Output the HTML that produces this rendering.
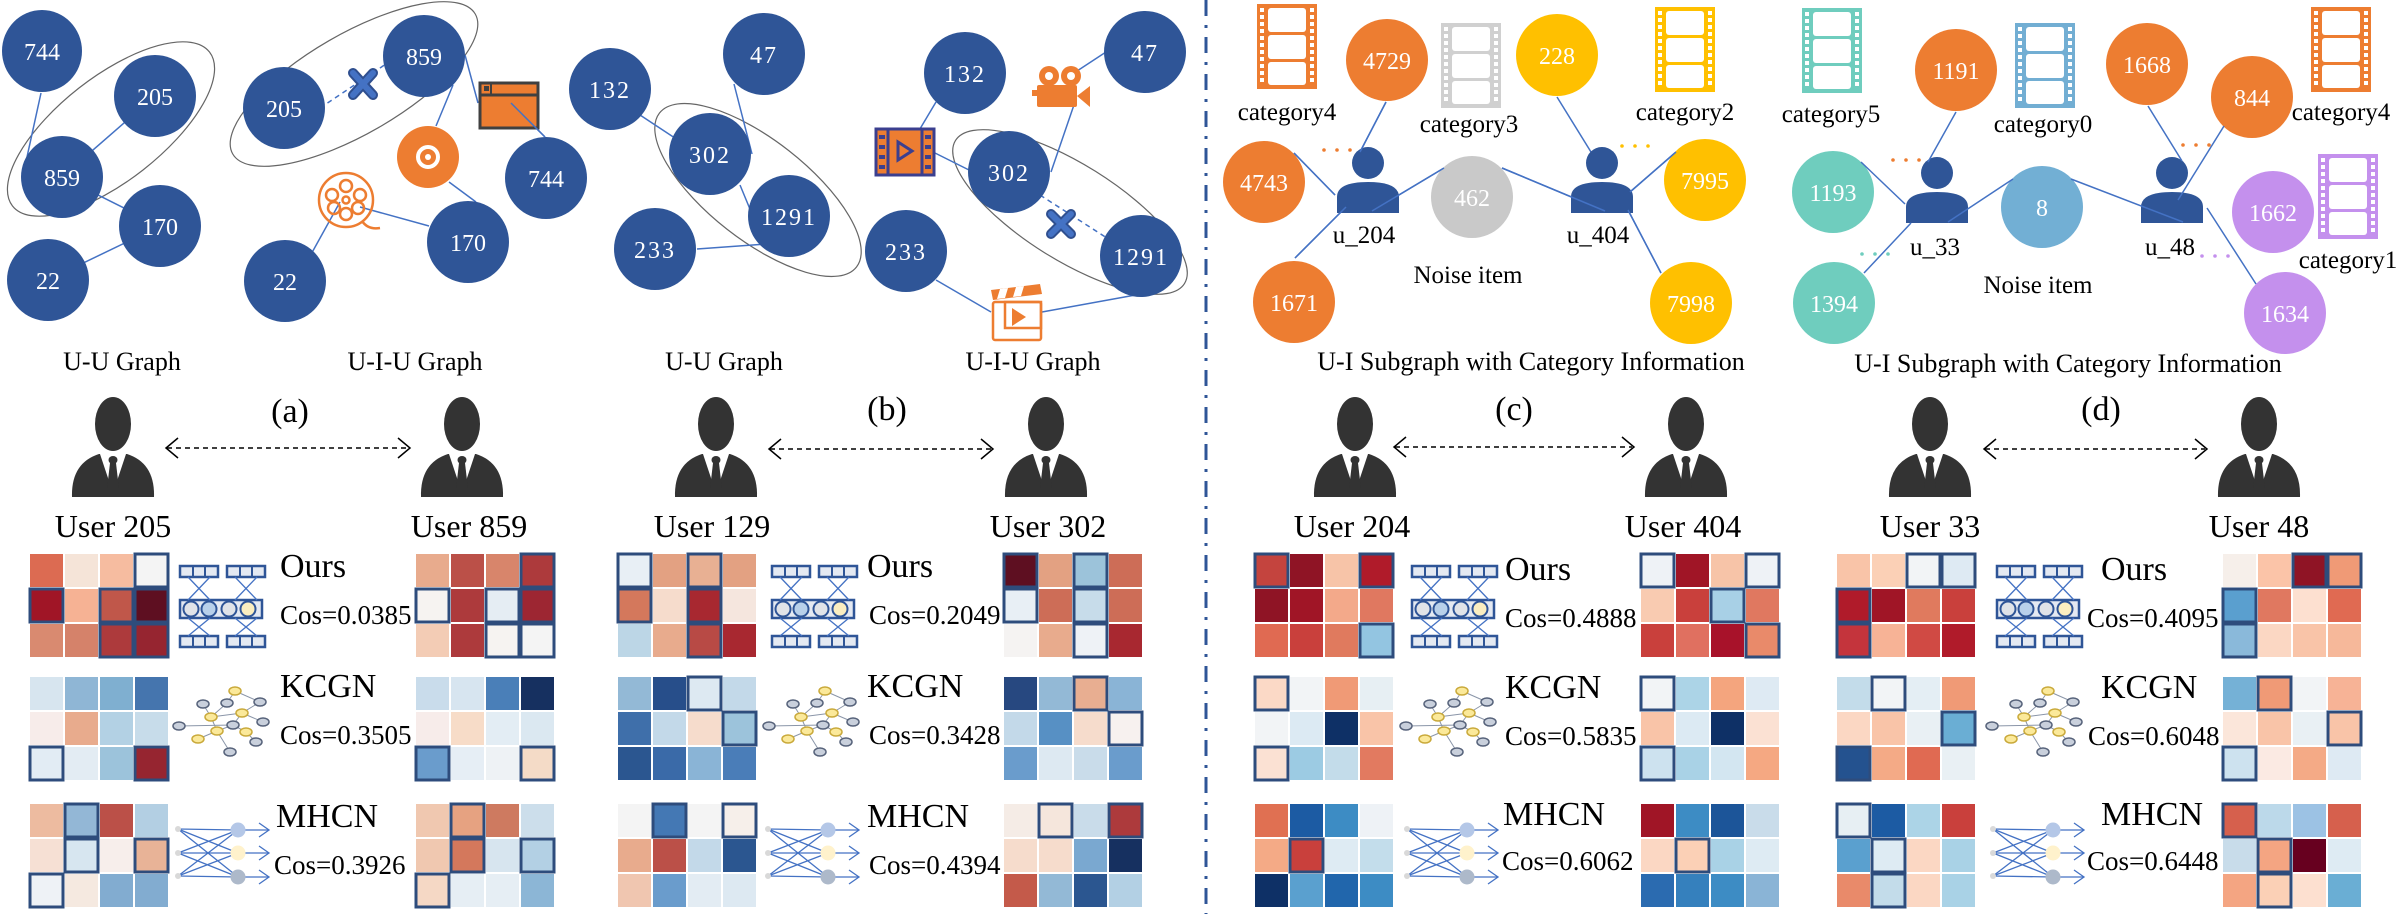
<!DOCTYPE html>
<html><head><meta charset="utf-8"><style>
html,body{margin:0;padding:0;background:#fff;}
svg{display:block;font-family:"Liberation Serif",serif;}
.h{stroke:#2e4c7c;stroke-width:3;}
.e{stroke:#4472c4;stroke-width:1.5;fill:none;}
.n{fill:#2f5597;}
.nt{fill:#fff;font-size:24px;text-anchor:middle;}
.lb{fill:#000;font-size:25px;text-anchor:middle;}
.big{font-size:34px;fill:#000;}
.cos{font-size:27px;fill:#000;}
.usr{font-size:32px;text-anchor:middle;fill:#000;}
</style></head><body>
<svg width="2397" height="914" viewBox="0 0 2397 914" xmlns="http://www.w3.org/2000/svg">
<defs>
<g id="person">
<ellipse cx="0" cy="27" rx="18" ry="27" fill="#333"/>
<path d="M-41,100 Q-42,66 -14,57 L14,57 Q42,66 41,100 Z" fill="#333"/>
<polygon points="-13,57 0,96 13,57" fill="#fff"/>
<ellipse cx="0" cy="63" rx="4.5" ry="4" fill="#333"/>
<polygon points="-3,66 3,66 6,92 0,99 -6,92" fill="#333"/>
</g>
<g id="bu">
<circle cx="0" cy="0" r="16" fill="#2f5597"/>
<path d="M-31,50 L-31,34 Q-31,19 0,19 Q31,19 31,34 L31,50 Z" fill="#2f5597"/>
</g>
<g id="film">
<rect x="0" y="0" width="60" height="85" fill="currentColor"/>
<g fill="#fff">
<rect x="3" y="4" width="4" height="4"/><rect x="3" y="11" width="4" height="4"/><rect x="3" y="18" width="4" height="4"/><rect x="3" y="25" width="4" height="4"/><rect x="3" y="32" width="4" height="4"/><rect x="3" y="39" width="4" height="4"/><rect x="3" y="46" width="4" height="4"/><rect x="3" y="53" width="4" height="4"/><rect x="3" y="60" width="4" height="4"/><rect x="3" y="67" width="4" height="4"/><rect x="3" y="74" width="4" height="4"/>
<rect x="53" y="4" width="4" height="4"/><rect x="53" y="11" width="4" height="4"/><rect x="53" y="18" width="4" height="4"/><rect x="53" y="25" width="4" height="4"/><rect x="53" y="32" width="4" height="4"/><rect x="53" y="39" width="4" height="4"/><rect x="53" y="46" width="4" height="4"/><rect x="53" y="53" width="4" height="4"/><rect x="53" y="60" width="4" height="4"/><rect x="53" y="67" width="4" height="4"/><rect x="53" y="74" width="4" height="4"/>
<rect x="11" y="4" width="38" height="24" rx="3"/><rect x="11" y="31" width="38" height="24" rx="3"/><rect x="11" y="58" width="38" height="23" rx="3"/>
</g>
</g>
<g id="ours">
<g fill="#e4e9f2" stroke="#2f5597" stroke-width="2.5">
<rect x="0" y="0" width="38" height="11"/><rect x="47" y="0" width="38" height="11"/>
<rect x="0" y="70" width="38" height="11"/><rect x="47" y="70" width="38" height="11"/>
<rect x="0" y="34" width="82" height="18"/>
</g>
<g stroke="#2f5597" stroke-width="2"><line x1="13" y1="0" x2="13" y2="11"/><line x1="25" y1="0" x2="25" y2="11"/><line x1="60" y1="0" x2="60" y2="11"/><line x1="72" y1="0" x2="72" y2="11"/><line x1="13" y1="70" x2="13" y2="81"/><line x1="25" y1="70" x2="25" y2="81"/><line x1="60" y1="70" x2="60" y2="81"/><line x1="72" y1="70" x2="72" y2="81"/></g>
<g stroke="#4472c4" stroke-width="1.3"><line x1="8" y1="11" x2="30" y2="34"/><line x1="30" y1="11" x2="8" y2="34"/><line x1="55" y1="11" x2="77" y2="34"/><line x1="77" y1="11" x2="55" y2="34"/><line x1="8" y1="52" x2="30" y2="70"/><line x1="30" y1="52" x2="8" y2="70"/><line x1="55" y1="52" x2="77" y2="70"/><line x1="77" y1="52" x2="55" y2="70"/></g>
<g stroke="#2f5597" stroke-width="2"><circle cx="11" cy="43" r="7.5" fill="#e0e3e8"/><circle cx="29" cy="43" r="7.5" fill="#b8d0ea"/><circle cx="49" cy="43" r="7.5" fill="#e0e3e8"/><circle cx="68" cy="43" r="7.5" fill="#fbeec0"/></g>
</g>
<g id="kcgn">
<g stroke="#8a95a8" stroke-width="1"><line x1="60" y1="14" x2="52" y2="26"/><line x1="60" y1="14" x2="85" y2="25"/><line x1="52" y1="26" x2="36" y2="40"/><line x1="28" y1="27" x2="36" y2="40"/><line x1="36" y1="40" x2="67" y2="36"/><line x1="67" y1="36" x2="85" y2="25"/><line x1="4" y1="49" x2="58" y2="48"/><line x1="58" y1="48" x2="67" y2="36"/><line x1="58" y1="48" x2="42" y2="54"/><line x1="42" y1="54" x2="23" y2="62"/><line x1="42" y1="54" x2="55" y2="75"/><line x1="71" y1="55" x2="81" y2="65"/><line x1="67" y1="36" x2="88" y2="45"/><line x1="58" y1="48" x2="71" y2="55"/><line x1="36" y1="40" x2="42" y2="54"/></g>
<g stroke-width="1.5"><ellipse cx="60" cy="14" rx="6" ry="4" fill="#fbe99a" stroke="#c9a93a"/><ellipse cx="28" cy="27" rx="6" ry="4" fill="#c9d0dc" stroke="#56627a"/><ellipse cx="52" cy="26" rx="6" ry="4" fill="#c9d0dc" stroke="#56627a"/><ellipse cx="85" cy="25" rx="6" ry="4" fill="#c9d0dc" stroke="#56627a"/><ellipse cx="36" cy="40" rx="6" ry="4" fill="#fbe99a" stroke="#c9a93a"/><ellipse cx="67" cy="36" rx="6" ry="4" fill="#fbe99a" stroke="#c9a93a"/><ellipse cx="4" cy="49" rx="6" ry="4" fill="#c9d0dc" stroke="#56627a"/><ellipse cx="58" cy="48" rx="6" ry="4" fill="#c9d0dc" stroke="#56627a"/><ellipse cx="88" cy="45" rx="6" ry="4" fill="#c9d0dc" stroke="#56627a"/><ellipse cx="42" cy="54" rx="6" ry="4" fill="#fbe99a" stroke="#c9a93a"/><ellipse cx="71" cy="55" rx="6" ry="4" fill="#fbe99a" stroke="#c9a93a"/><ellipse cx="23" cy="62" rx="6" ry="4" fill="#fbe99a" stroke="#c9a93a"/><ellipse cx="81" cy="65" rx="6" ry="4" fill="#c9d0dc" stroke="#56627a"/><ellipse cx="55" cy="75" rx="6" ry="4" fill="#c9d0dc" stroke="#56627a"/></g>
</g>
<g id="mhcn">
<g stroke="#4472c4" stroke-width="1.3" fill="none"><line x1="3" y1="25" x2="63" y2="26"/><line x1="3" y1="25" x2="63" y2="49"/><line x1="3" y1="25" x2="63" y2="73"/><line x1="3" y1="49" x2="63" y2="26"/><line x1="3" y1="49" x2="63" y2="49"/><line x1="3" y1="49" x2="63" y2="73"/><line x1="3" y1="72" x2="63" y2="26"/><line x1="3" y1="72" x2="63" y2="49"/><line x1="3" y1="72" x2="63" y2="73"/><line x1="63" y1="26" x2="94" y2="26"/><line x1="63" y1="49" x2="94" y2="49"/><line x1="63" y1="73" x2="94" y2="73"/><polyline points="84,19 94,26 84,33"/><polyline points="84,42 94,49 84,56"/><polyline points="84,66 94,73 84,80"/></g>
<circle cx="3" cy="25" r="3" fill="#d9d9d9"/><circle cx="3" cy="49" r="3" fill="#d9d9d9"/><circle cx="3" cy="72" r="3" fill="#d9d9d9"/>
<circle cx="63" cy="26" r="7.5" fill="#b4c7e7"/><circle cx="63" cy="49" r="7.5" fill="#fff2cc"/><circle cx="63" cy="73" r="7.5" fill="#adb9ca"/>
</g>
<g id="darr" stroke="#000" stroke-width="1.5" fill="none"><polyline points="12,-10 0,0 12,10"/></g>
</defs>

<!-- divider -->
<line x1="1206" y1="0" x2="1206" y2="914" stroke="#2f5597" stroke-width="3" stroke-dasharray="16 9 3 9"/>

<!-- ===== Panel (a) graphs ===== -->
<ellipse cx="111" cy="129" rx="125" ry="52" transform="rotate(-38 111 129)" fill="none" stroke="#666" stroke-width="1.2"/>
<line class="e" x1="41" y1="93" x2="27" y2="157"/>
<line class="e" x1="155" y1="96" x2="62" y2="177"/>
<line class="e" x1="62" y1="177" x2="160" y2="226"/>
<line class="e" x1="160" y1="226" x2="48" y2="280"/>
<ellipse class="n" cx="42" cy="51" rx="40" ry="41"/><text class="nt" x="42" y="60">744</text>
<ellipse class="n" cx="155" cy="96" rx="41" ry="41"/><text class="nt" x="155" y="105">205</text>
<ellipse class="n" cx="62" cy="177" rx="41" ry="41"/><text class="nt" x="62" y="186">859</text>
<ellipse class="n" cx="160" cy="226" rx="41" ry="41"/><text class="nt" x="160" y="235">170</text>
<ellipse class="n" cx="48" cy="280" rx="41" ry="41"/><text class="nt" x="48" y="289">22</text>

<ellipse cx="354" cy="84" rx="140" ry="50" transform="rotate(-30 354 84)" fill="none" stroke="#666" stroke-width="1.2"/>
<line x1="320" y1="108" x2="392" y2="60" stroke="#4472c4" stroke-width="1.5" stroke-dasharray="5 4"/>
<line class="e" x1="465" y1="55" x2="478" y2="103"/>
<line class="e" x1="511" y1="103" x2="545" y2="137"/>
<line class="e" x1="453" y1="85" x2="436" y2="126"/>
<line class="e" x1="449" y1="182" x2="476" y2="202"/>
<line class="e" x1="360" y1="207" x2="429" y2="226"/>
<line class="e" x1="340" y1="202" x2="309" y2="258"/>
<ellipse class="n" cx="424" cy="56" rx="41" ry="41"/><text class="nt" x="424" y="65">859</text>
<ellipse class="n" cx="284" cy="108" rx="41" ry="41"/><text class="nt" x="284" y="117">205</text>
<ellipse class="n" cx="546" cy="178" rx="41" ry="41"/><text class="nt" x="546" y="187">744</text>
<ellipse class="n" cx="468" cy="242" rx="41" ry="41"/><text class="nt" x="468" y="251">170</text>
<ellipse class="n" cx="285" cy="281" rx="41" ry="41"/><text class="nt" x="285" y="290">22</text>
<!-- blue X -->
<g stroke-linecap="round"><line x1="353" y1="73" x2="373" y2="95" stroke="#2f4f8f" stroke-width="10"/><line x1="373" y1="73" x2="353" y2="95" stroke="#2f4f8f" stroke-width="10"/><line x1="353" y1="73" x2="373" y2="95" stroke="#4472c4" stroke-width="6"/><line x1="373" y1="73" x2="353" y2="95" stroke="#4472c4" stroke-width="6"/></g>
<!-- window icon -->
<rect x="480" y="83" width="58" height="45" fill="#ed7d31" stroke="#404040" stroke-width="3"/>
<line x1="480" y1="95" x2="538" y2="95" stroke="#404040" stroke-width="3"/>
<rect x="484" y="86" width="5" height="5" fill="#404040"/><line x1="491" y1="83" x2="491" y2="95" stroke="#404040" stroke-width="2"/>
<line class="e" x1="511" y1="103" x2="545" y2="137"/>
<!-- disc -->
<ellipse cx="428" cy="157" rx="31" ry="31" fill="#ed7d31"/>
<circle cx="428" cy="157" r="10" fill="none" stroke="#fff" stroke-width="4"/><circle cx="428" cy="157" r="3" fill="#fff"/>
<!-- film reel -->
<g fill="none" stroke="#ed7d31" stroke-width="2.5"><circle cx="346" cy="200" r="27"/><circle cx="346" cy="200" r="3.5"/><circle cx="346" cy="186" r="6"/><circle cx="346" cy="214" r="6"/><circle cx="332" cy="195" r="6"/><circle cx="360" cy="195" r="6"/><circle cx="334" cy="208" r="6"/><circle cx="358" cy="208" r="6"/><path d="M362,221 Q368,230 380,228"/></g>

<!-- ===== Panel (b) graphs ===== -->
<ellipse cx="758" cy="190" rx="125" ry="50" transform="rotate(38 758 190)" fill="none" stroke="#666" stroke-width="1.2"/>
<line class="e" x1="640" y1="115" x2="690" y2="148"/>
<line class="e" x1="734" y1="84" x2="752" y2="154"/>
<line class="e" x1="740" y1="185" x2="752" y2="214"/>
<line class="e" x1="697" y1="249" x2="766" y2="244"/>
<ellipse class="n" cx="610" cy="89" rx="41" ry="41"/><text class="nt" x="610" y="98" letter-spacing="2">132</text>
<ellipse class="n" cx="764" cy="54" rx="41" ry="41"/><text class="nt" x="764" y="63" letter-spacing="2">47</text>
<ellipse class="n" cx="710" cy="154" rx="41" ry="41"/><text class="nt" x="710" y="163" letter-spacing="2">302</text>
<ellipse class="n" cx="789" cy="216" rx="41" ry="41"/><text class="nt" x="789" y="225" letter-spacing="2">1291</text>
<ellipse class="n" cx="655" cy="249" rx="41" ry="41"/><text class="nt" x="655" y="258" letter-spacing="2">233</text>

<ellipse cx="1070" cy="212" rx="135" ry="48" transform="rotate(32 1070 212)" fill="none" stroke="#666" stroke-width="1.2"/>
<line x1="1040" y1="195" x2="1110" y2="240" stroke="#4472c4" stroke-width="1.5" stroke-dasharray="5 4"/>
<line class="e" x1="936" y1="102" x2="908" y2="149"/>
<line class="e" x1="935" y1="153" x2="969" y2="170"/>
<line class="e" x1="1106" y1="52" x2="1074" y2="73"/>
<line class="e" x1="1076" y1="99" x2="1051" y2="172"/>
<line class="e" x1="936" y1="280" x2="991" y2="312"/>
<line class="e" x1="1042" y1="312" x2="1141" y2="294"/>
<ellipse class="n" cx="965" cy="73" rx="41" ry="41"/><text class="nt" x="965" y="82" letter-spacing="2">132</text>
<ellipse class="n" cx="1145" cy="52" rx="41" ry="41"/><text class="nt" x="1145" y="61" letter-spacing="2">47</text>
<ellipse class="n" cx="1009" cy="172" rx="41" ry="41"/><text class="nt" x="1009" y="181" letter-spacing="2">302</text>
<ellipse class="n" cx="1141" cy="256" rx="41" ry="41"/><text class="nt" x="1141" y="265" letter-spacing="2">1291</text>
<ellipse class="n" cx="906" cy="251" rx="41" ry="41"/><text class="nt" x="906" y="260" letter-spacing="2">233</text>
<g stroke-linecap="round"><line x1="1051" y1="214" x2="1071" y2="234" stroke="#2f4f8f" stroke-width="10"/><line x1="1071" y1="214" x2="1051" y2="234" stroke="#2f4f8f" stroke-width="10"/><line x1="1051" y1="214" x2="1071" y2="234" stroke="#4472c4" stroke-width="6"/><line x1="1071" y1="214" x2="1051" y2="234" stroke="#4472c4" stroke-width="6"/></g>
<!-- film strip icon -->
<rect x="876" y="129" width="58" height="46" fill="#ed7d31" stroke="#3b3f8f" stroke-width="3"/>
<line x1="888" y1="129" x2="888" y2="175" stroke="#3b3f8f" stroke-width="3"/><line x1="922" y1="129" x2="922" y2="175" stroke="#3b3f8f" stroke-width="3"/>
<g fill="#3b3f8f"><rect x="879" y="135" width="6" height="4"/><rect x="879" y="145" width="6" height="4"/><rect x="879" y="155" width="6" height="4"/><rect x="879" y="165" width="6" height="4"/><rect x="925" y="135" width="6" height="4"/><rect x="925" y="145" width="6" height="4"/><rect x="925" y="155" width="6" height="4"/><rect x="925" y="165" width="6" height="4"/></g>
<polygon points="898,142 898,160 912,151" fill="none" stroke="#3b3f8f" stroke-width="3"/>
<!-- camera -->
<g fill="#ed7d31"><circle cx="1049" cy="76" r="10"/><circle cx="1071" cy="76" r="10"/><rect x="1037" y="85" width="40" height="22" rx="2"/><polygon points="1077,96 1090,86 1090,107"/><rect x="1032" y="90" width="6" height="6"/></g>
<g fill="#fff"><circle cx="1049" cy="76" r="4"/><circle cx="1071" cy="76" r="4"/></g>
<!-- clapper -->
<g fill="none" stroke="#ed7d31" stroke-width="2.5"><rect x="993" y="302" width="48" height="38" rx="2"/><rect x="1005" y="302" width="36" height="26"/></g>
<polygon points="991,290 1040,284 1042,294 993,300" fill="#ed7d31"/>
<g fill="#fff"><polygon points="1000,289 1008,288 1005,298 997,299"/><polygon points="1016,287 1024,286 1021,296 1013,297"/></g>
<polygon points="1012,308 1012,326 1026,317" fill="#ed7d31"/>

<!-- ===== Panel (c) graph ===== -->
<use href="#film" x="1257" y="4" style="color:#ed7d31"/>
<use href="#film" x="1441" y="23" style="color:#d0d0d0"/>
<use href="#film" x="1655" y="7" style="color:#ffc000"/>
<text class="lb" x="1287" y="120">category4</text>
<text class="lb" x="1469" y="132">category3</text>
<text class="lb" x="1685" y="120">category2</text>
<line class="e" x1="1386" y1="102" x2="1360" y2="152"/>
<line class="e" x1="1294" y1="153" x2="1335" y2="195"/>
<line class="e" x1="1295" y1="258" x2="1346" y2="207"/>
<line class="e" x1="1444" y1="168" x2="1372" y2="211"/>
<line class="e" x1="1502" y1="168" x2="1605" y2="211"/>
<line class="e" x1="1557" y1="97" x2="1591" y2="152"/>
<line class="e" x1="1676" y1="152" x2="1630" y2="192"/>
<line class="e" x1="1661" y1="273" x2="1628" y2="210"/>
<ellipse cx="1387" cy="60" rx="41" ry="41" fill="#ed7d31"/><text class="nt" x="1387" y="69">4729</text>
<ellipse cx="1557" cy="55" rx="41" ry="41" fill="#ffc000"/><text class="nt" x="1557" y="64">228</text>
<ellipse cx="1264" cy="182" rx="41" ry="41" fill="#ed7d31"/><text class="nt" x="1264" y="191">4743</text>
<ellipse cx="1472" cy="197" rx="41" ry="41" fill="#c9c9c9"/><text class="nt" x="1472" y="206">462</text>
<ellipse cx="1705" cy="180" rx="41" ry="41" fill="#ffc000"/><text class="nt" x="1705" y="189">7995</text>
<ellipse cx="1294" cy="302" rx="41" ry="41" fill="#ed7d31"/><text class="nt" x="1294" y="311">1671</text>
<ellipse cx="1691" cy="303" rx="41" ry="41" fill="#ffc000"/><text class="nt" x="1691" y="312">7998</text>
<use href="#bu" transform="translate(1368,163)"/>
<use href="#bu" transform="translate(1602,163)"/>
<line class="e" x1="1386" y1="102" x2="1360" y2="152"/>
<line class="e" x1="1444" y1="168" x2="1372" y2="211"/>
<line class="e" x1="1502" y1="168" x2="1605" y2="211"/>
<line class="e" x1="1676" y1="152" x2="1630" y2="192"/>
<line class="e" x1="1294" y1="153" x2="1335" y2="195"/>
<line class="e" x1="1295" y1="258" x2="1346" y2="207"/>
<line class="e" x1="1661" y1="273" x2="1628" y2="210"/>
<g fill="#ed7d31"><circle cx="1324" cy="150" r="1.8"/><circle cx="1337" cy="150" r="1.8"/><circle cx="1350" cy="150" r="1.8"/></g>
<g fill="#ffc000"><circle cx="1622" cy="146" r="1.8"/><circle cx="1635" cy="146" r="1.8"/><circle cx="1648" cy="146" r="1.8"/></g>
<text class="lb" x="1364" y="243" font-size="27">u_204</text>
<text class="lb" x="1598" y="243" font-size="27">u_404</text>
<text class="lb" x="1468" y="283">Noise item</text>

<!-- ===== Panel (d) graph ===== -->
<use href="#film" x="1802" y="8" style="color:#6fcdbe"/>
<use href="#film" x="2015" y="23" style="color:#72aed3"/>
<use href="#film" x="2311" y="7" style="color:#ed7d31"/>
<use href="#film" x="2318" y="154" style="color:#c490ed"/>
<text class="lb" x="1831" y="122">category5</text>
<text class="lb" x="2043" y="132">category0</text>
<text class="lb" x="2341" y="120">category4</text>
<text class="lb" x="2348" y="268">category1</text>
<ellipse cx="1956" cy="70" rx="41" ry="41" fill="#ed7d31"/><text class="nt" x="1956" y="79">1191</text>
<ellipse cx="2147" cy="64" rx="41" ry="41" fill="#ed7d31"/><text class="nt" x="2147" y="73">1668</text>
<ellipse cx="2252" cy="97" rx="41" ry="41" fill="#ed7d31"/><text class="nt" x="2252" y="106">844</text>
<ellipse cx="1833" cy="192" rx="41" ry="41" fill="#6fcdbe"/><text class="nt" x="1833" y="201">1193</text>
<ellipse cx="2042" cy="207" rx="41" ry="41" fill="#72afd4"/><text class="nt" x="2042" y="216">8</text>
<ellipse cx="2273" cy="212" rx="41" ry="41" fill="#c490ed"/><text class="nt" x="2273" y="221">1662</text>
<ellipse cx="1834" cy="303" rx="41" ry="41" fill="#6fcdbe"/><text class="nt" x="1834" y="312">1394</text>
<ellipse cx="2285" cy="313" rx="41" ry="41" fill="#c490ed"/><text class="nt" x="2285" y="322">1634</text>
<use href="#bu" transform="translate(1937,173)"/>
<use href="#bu" transform="translate(2172,173)"/>
<line class="e" x1="1956" y1="112" x2="1928" y2="162"/>
<line class="e" x1="1861" y1="162" x2="1905" y2="204"/>
<line class="e" x1="1864" y1="273" x2="1911" y2="223"/>
<line class="e" x1="2013" y1="179" x2="1948" y2="222"/>
<line class="e" x1="2071" y1="179" x2="2183" y2="222"/>
<line class="e" x1="2148" y1="106" x2="2182" y2="161"/>
<line class="e" x1="2224" y1="126" x2="2178" y2="200"/>
<line class="e" x1="2256" y1="284" x2="2207" y2="208"/>
<g fill="#ed7d31"><circle cx="1893" cy="160" r="1.8"/><circle cx="1906" cy="160" r="1.8"/><circle cx="1919" cy="160" r="1.8"/><circle cx="2183" cy="145" r="1.8"/><circle cx="2196" cy="145" r="1.8"/><circle cx="2209" cy="145" r="1.8"/></g>
<g fill="#6fcdbe"><circle cx="1862" cy="254" r="1.8"/><circle cx="1875" cy="254" r="1.8"/><circle cx="1888" cy="254" r="1.8"/></g>
<g fill="#c490ed"><circle cx="2202" cy="256" r="1.8"/><circle cx="2215" cy="256" r="1.8"/><circle cx="2228" cy="256" r="1.8"/></g>
<text class="lb" x="1935" y="255" font-size="27">u_33</text>
<text class="lb" x="2170" y="255" font-size="27">u_48</text>
<text class="lb" x="2038" y="293">Noise item</text>

<!-- ===== Labels ===== -->
<g font-size="26" text-anchor="middle" fill="#000">
<text x="122" y="370">U-U Graph</text>
<text x="415" y="370">U-I-U Graph</text>
<text x="724" y="370">U-U Graph</text>
<text x="1033" y="370">U-I-U Graph</text>
<text x="1531" y="370">U-I Subgraph with Category Information</text>
<text x="2068" y="372">U-I Subgraph with Category Information</text>
</g>
<g font-size="34" text-anchor="middle" fill="#000">
<text x="290" y="422">(a)</text><text x="887" y="420">(b)</text><text x="1514" y="420">(c)</text><text x="2101" y="420">(d)</text>
</g>

<!-- persons + arrows -->
<use href="#person" transform="translate(113,397)"/><use href="#person" transform="translate(462,397)"/>
<use href="#person" transform="translate(716,397)"/><use href="#person" transform="translate(1046,397)"/>
<use href="#person" transform="translate(1355,397)"/><use href="#person" transform="translate(1686,397)"/>
<use href="#person" transform="translate(1930,397)"/><use href="#person" transform="translate(2259,397)"/>
<g stroke="#000" stroke-width="1.5" stroke-dasharray="5 4"><line x1="167" y1="448" x2="409" y2="448"/><line x1="770" y1="449" x2="992" y2="449"/><line x1="1395" y1="447" x2="1632" y2="447"/><line x1="1985" y1="449" x2="2205" y2="449"/></g>
<use href="#darr" transform="translate(166,448)"/><use href="#darr" transform="translate(410,448) scale(-1,1)"/>
<use href="#darr" transform="translate(769,449)"/><use href="#darr" transform="translate(993,449) scale(-1,1)"/>
<use href="#darr" transform="translate(1394,447)"/><use href="#darr" transform="translate(1634,447) scale(-1,1)"/>
<use href="#darr" transform="translate(1984,449)"/><use href="#darr" transform="translate(2207,449) scale(-1,1)"/>
<text class="usr" x="113" y="537">User 205</text><text class="usr" x="469" y="537">User 859</text>
<text class="usr" x="712" y="537">User 129</text><text class="usr" x="1048" y="537">User 302</text>
<text class="usr" x="1352" y="537">User 204</text><text class="usr" x="1683" y="537">User 404</text>
<text class="usr" x="1930" y="537">User 33</text><text class="usr" x="2259" y="537">User 48</text>

<!-- method icons & text -->
<g>
<use href="#ours" transform="translate(180,566)"/><use href="#kcgn" transform="translate(175,677)"/><use href="#mhcn" transform="translate(175,804)"/>
<use href="#ours" transform="translate(772,566)"/><use href="#kcgn" transform="translate(765,677)"/><use href="#mhcn" transform="translate(765,804)"/>
<use href="#ours" transform="translate(1412,566)"/><use href="#kcgn" transform="translate(1402,677)"/><use href="#mhcn" transform="translate(1404,804)"/>
<use href="#ours" transform="translate(1997,566)"/><use href="#kcgn" transform="translate(1988,677)"/><use href="#mhcn" transform="translate(1990,804)"/>
</g>
<text class="big" x="280" y="577">Ours</text><text class="cos" x="280" y="624">Cos=0.0385</text>
<text class="big" x="280" y="697">KCGN</text><text class="cos" x="280" y="744">Cos=0.3505</text>
<text class="big" x="276" y="827">MHCN</text><text class="cos" x="274" y="874">Cos=0.3926</text>
<text class="big" x="867" y="577">Ours</text><text class="cos" x="869" y="624">Cos=0.2049</text>
<text class="big" x="867" y="697">KCGN</text><text class="cos" x="869" y="744">Cos=0.3428</text>
<text class="big" x="867" y="827">MHCN</text><text class="cos" x="869" y="874">Cos=0.4394</text>
<text class="big" x="1505" y="580">Ours</text><text class="cos" x="1505" y="627">Cos=0.4888</text>
<text class="big" x="1505" y="698">KCGN</text><text class="cos" x="1505" y="745">Cos=0.5835</text>
<text class="big" x="1503" y="825">MHCN</text><text class="cos" x="1502" y="870">Cos=0.6062</text>
<text class="big" x="2101" y="580">Ours</text><text class="cos" x="2087" y="627">Cos=0.4095</text>
<text class="big" x="2101" y="698">KCGN</text><text class="cos" x="2088" y="745">Cos=0.6048</text>
<text class="big" x="2101" y="825">MHCN</text><text class="cos" x="2087" y="870">Cos=0.6448</text>

<!-- ===== Heatmaps ===== -->
<!-- (a) 205 Ours -->
<g transform="translate(30,554)">
<rect x="0" y="0" width="33" height="33" fill="#dc6b52"/><rect x="35" y="0" width="33" height="33" fill="#f5e4d8"/><rect x="70" y="0" width="33" height="33" fill="#f6bca0"/><rect x="105" y="0" width="33" height="33" fill="#f4f4f4" class="h"/>
<rect x="0" y="35" width="33" height="33" fill="#a01526" class="h"/><rect x="35" y="35" width="33" height="33" fill="#f6b294"/><rect x="70" y="35" width="33" height="33" fill="#c0574a" class="h"/><rect x="105" y="35" width="33" height="33" fill="#5e0f21" class="h"/>
<rect x="0" y="70" width="33" height="33" fill="#d98a70"/><rect x="35" y="70" width="33" height="33" fill="#d5826a"/><rect x="70" y="70" width="33" height="33" fill="#ad3a3c" class="h"/><rect x="105" y="70" width="33" height="33" fill="#962530" class="h"/>
</g>
<g transform="translate(416,554)">
<rect x="0" y="0" width="33" height="33" fill="#e8ab8d"/><rect x="35" y="0" width="33" height="33" fill="#bb5048"/><rect x="70" y="0" width="33" height="33" fill="#d8856b"/><rect x="105" y="0" width="33" height="33" fill="#ad3a3c" class="h"/>
<rect x="0" y="35" width="33" height="33" fill="#f6f3f1" class="h"/><rect x="35" y="35" width="33" height="33" fill="#ad3a3c"/><rect x="70" y="35" width="33" height="33" fill="#e5edf3" class="h"/><rect x="105" y="35" width="33" height="33" fill="#9d2632" class="h"/>
<rect x="0" y="70" width="33" height="33" fill="#f3ccb5"/><rect x="35" y="70" width="33" height="33" fill="#ad3a3c"/><rect x="70" y="70" width="33" height="33" fill="#f6f3f1" class="h"/><rect x="105" y="70" width="33" height="33" fill="#f4f4f4" class="h"/>
</g>
<g transform="translate(30,677)">
<rect x="0" y="0" width="33" height="33" fill="#d7e5ef"/><rect x="35" y="0" width="33" height="33" fill="#8fb6d5"/><rect x="70" y="0" width="33" height="33" fill="#7fafd0"/><rect x="105" y="0" width="33" height="33" fill="#4575ae"/>
<rect x="0" y="35" width="33" height="33" fill="#f7ecea"/><rect x="35" y="35" width="33" height="33" fill="#e8ab8d"/><rect x="70" y="35" width="33" height="33" fill="#b3d1e4"/><rect x="105" y="35" width="33" height="33" fill="#c7dcea"/>
<rect x="0" y="70" width="33" height="33" fill="#e2ecf4" class="h"/><rect x="35" y="70" width="33" height="33" fill="#e3ecf3"/><rect x="70" y="70" width="33" height="33" fill="#9cc3db"/><rect x="105" y="70" width="33" height="33" fill="#962530" class="h"/>
</g>
<g transform="translate(416,677)">
<rect x="0" y="0" width="33" height="33" fill="#c9dceb"/><rect x="35" y="0" width="33" height="33" fill="#d7e5f0"/><rect x="70" y="0" width="33" height="33" fill="#4a7fb8"/><rect x="105" y="0" width="33" height="33" fill="#163060"/>
<rect x="0" y="35" width="33" height="33" fill="#f7ecea"/><rect x="35" y="35" width="33" height="33" fill="#f7dcc8"/><rect x="70" y="35" width="33" height="33" fill="#e3edf4"/><rect x="105" y="35" width="33" height="33" fill="#dbe8f1"/>
<rect x="0" y="70" width="33" height="33" fill="#6a9ccc" class="h"/><rect x="35" y="70" width="33" height="33" fill="#e6eef5"/><rect x="70" y="70" width="33" height="33" fill="#eef2f5"/><rect x="105" y="70" width="33" height="33" fill="#f4dbc7" class="h"/>
</g>
<g transform="translate(30,804)">
<rect x="0" y="0" width="33" height="33" fill="#edbba0"/><rect x="35" y="0" width="33" height="33" fill="#93b7d6" class="h"/><rect x="70" y="0" width="33" height="33" fill="#bb5048"/><rect x="105" y="0" width="33" height="33" fill="#b3cfe3"/>
<rect x="0" y="35" width="33" height="33" fill="#f6e0d4"/><rect x="35" y="35" width="33" height="33" fill="#d7e6f0" class="h"/><rect x="70" y="35" width="33" height="33" fill="#f7eeeb"/><rect x="105" y="35" width="33" height="33" fill="#e8b397" class="h"/>
<rect x="0" y="70" width="33" height="33" fill="#eef2f6" class="h"/><rect x="35" y="70" width="33" height="33" fill="#f5e9e0"/><rect x="70" y="70" width="33" height="33" fill="#82acd0"/><rect x="105" y="70" width="33" height="33" fill="#82acd0"/>
</g>
<g transform="translate(416,804)">
<rect x="0" y="0" width="33" height="33" fill="#f0c8b0"/><rect x="35" y="0" width="33" height="33" fill="#e6a281" class="h"/><rect x="70" y="0" width="33" height="33" fill="#ce7a60"/><rect x="105" y="0" width="33" height="33" fill="#ccdeeb"/>
<rect x="0" y="35" width="33" height="33" fill="#f0c8b0"/><rect x="35" y="35" width="33" height="33" fill="#d4785c" class="h"/><rect x="70" y="35" width="33" height="33" fill="#d7e5ef"/><rect x="105" y="35" width="33" height="33" fill="#b3d0e4" class="h"/>
<rect x="0" y="70" width="33" height="33" fill="#f5d8c5" class="h"/><rect x="35" y="70" width="33" height="33" fill="#e6eef4"/><rect x="70" y="70" width="33" height="33" fill="#e6eef4"/><rect x="105" y="70" width="33" height="33" fill="#8cb6d6"/>
</g>
<!-- (b) -->
<g transform="translate(618,554)">
<rect x="0" y="0" width="33" height="33" fill="#e8eff5" class="h"/><rect x="35" y="0" width="33" height="33" fill="#e3a182"/><rect x="70" y="0" width="33" height="33" fill="#e8b093" class="h"/><rect x="105" y="0" width="33" height="33" fill="#e3a182"/>
<rect x="0" y="35" width="33" height="33" fill="#d4785c" class="h"/><rect x="35" y="35" width="33" height="33" fill="#f6dccc"/><rect x="70" y="35" width="33" height="33" fill="#a82830" class="h"/><rect x="105" y="35" width="33" height="33" fill="#f5e6de"/>
<rect x="0" y="70" width="33" height="33" fill="#bcd6e6"/><rect x="35" y="70" width="33" height="33" fill="#e8ab8d"/><rect x="70" y="70" width="33" height="33" fill="#b84a45" class="h"/><rect x="105" y="70" width="33" height="33" fill="#a82830"/>
</g>
<g transform="translate(1004,554)">
<rect x="0" y="0" width="33" height="33" fill="#5e0f21" class="h"/><rect x="35" y="0" width="33" height="33" fill="#e3a182"/><rect x="70" y="0" width="33" height="33" fill="#9cc3da" class="h"/><rect x="105" y="0" width="33" height="33" fill="#cd6d57"/>
<rect x="0" y="35" width="33" height="33" fill="#e8eff5" class="h"/><rect x="35" y="35" width="33" height="33" fill="#cd6d57"/><rect x="70" y="35" width="33" height="33" fill="#c7dcea" class="h"/><rect x="105" y="35" width="33" height="33" fill="#cd6d57"/>
<rect x="0" y="70" width="33" height="33" fill="#f5f3f2"/><rect x="35" y="70" width="33" height="33" fill="#e8ab8d"/><rect x="70" y="70" width="33" height="33" fill="#eef2f6" class="h"/><rect x="105" y="70" width="33" height="33" fill="#a82830"/>
</g>
<g transform="translate(618,677)">
<rect x="0" y="0" width="33" height="33" fill="#93b9d6"/><rect x="35" y="0" width="33" height="33" fill="#274e8a"/><rect x="70" y="0" width="33" height="33" fill="#dde9f2" class="h"/><rect x="105" y="0" width="33" height="33" fill="#c3d9e9"/>
<rect x="0" y="35" width="33" height="33" fill="#3f6faa"/><rect x="35" y="35" width="33" height="33" fill="#c3d9e9"/><rect x="70" y="35" width="33" height="33" fill="#f6dccc"/><rect x="105" y="35" width="33" height="33" fill="#9cc3db" class="h"/>
<rect x="0" y="70" width="33" height="33" fill="#2b5690"/><rect x="35" y="70" width="33" height="33" fill="#3a6aa8"/><rect x="70" y="70" width="33" height="33" fill="#8ab4d6"/><rect x="105" y="70" width="33" height="33" fill="#4a7db8"/>
</g>
<g transform="translate(1004,677)">
<rect x="0" y="0" width="33" height="33" fill="#274880"/><rect x="35" y="0" width="33" height="33" fill="#93b9d6"/><rect x="70" y="0" width="33" height="33" fill="#e8ae91" class="h"/><rect x="105" y="0" width="33" height="33" fill="#8ab4d6"/>
<rect x="0" y="35" width="33" height="33" fill="#c3d9e9"/><rect x="35" y="35" width="33" height="33" fill="#5790c4"/><rect x="70" y="35" width="33" height="33" fill="#f6dccc"/><rect x="105" y="35" width="33" height="33" fill="#f7f1ef" class="h"/>
<rect x="0" y="70" width="33" height="33" fill="#6a9ccc"/><rect x="35" y="70" width="33" height="33" fill="#dde9f2"/><rect x="70" y="70" width="33" height="33" fill="#c9dcea"/><rect x="105" y="70" width="33" height="33" fill="#6a9ccc"/>
</g>
<g transform="translate(618,804)">
<rect x="0" y="0" width="33" height="33" fill="#f4f4f4"/><rect x="35" y="0" width="33" height="33" fill="#4478b4" class="h"/><rect x="70" y="0" width="33" height="33" fill="#f4f4f4"/><rect x="105" y="0" width="33" height="33" fill="#f6efea" class="h"/>
<rect x="0" y="35" width="33" height="33" fill="#e8ab8d"/><rect x="35" y="35" width="33" height="33" fill="#bb5048"/><rect x="70" y="35" width="33" height="33" fill="#c3d9e9"/><rect x="105" y="35" width="33" height="33" fill="#2b5690"/>
<rect x="0" y="70" width="33" height="33" fill="#f0c6b0"/><rect x="35" y="70" width="33" height="33" fill="#6a9ccc"/><rect x="70" y="70" width="33" height="33" fill="#e3ecf3"/><rect x="105" y="70" width="33" height="33" fill="#dde9f2"/>
</g>
<g transform="translate(1004,804)">
<rect x="0" y="0" width="33" height="33" fill="#f5ece6"/><rect x="35" y="0" width="33" height="33" fill="#f5e6dc" class="h"/><rect x="70" y="0" width="33" height="33" fill="#c9dcea"/><rect x="105" y="0" width="33" height="33" fill="#ad3a3c" class="h"/>
<rect x="0" y="35" width="33" height="33" fill="#f6dccc"/><rect x="35" y="35" width="33" height="33" fill="#f6dccc"/><rect x="70" y="35" width="33" height="33" fill="#7aa8d0"/><rect x="105" y="35" width="33" height="33" fill="#163060"/>
<rect x="0" y="70" width="33" height="33" fill="#c45a4a"/><rect x="35" y="70" width="33" height="33" fill="#93b9d6"/><rect x="70" y="70" width="33" height="33" fill="#2b5690"/><rect x="105" y="70" width="33" height="33" fill="#b3d0e4"/>
</g>
<!-- (c) -->
<g transform="translate(1255,554)">
<rect x="0" y="0" width="33" height="33" fill="#c4443e" class="h"/><rect x="35" y="0" width="33" height="33" fill="#8f1425"/><rect x="70" y="0" width="33" height="33" fill="#f7c4a8"/><rect x="105" y="0" width="33" height="33" fill="#b01b2a" class="h"/>
<rect x="0" y="35" width="33" height="33" fill="#8f1425"/><rect x="35" y="35" width="33" height="33" fill="#a01526"/><rect x="70" y="35" width="33" height="33" fill="#f3a98a"/><rect x="105" y="35" width="33" height="33" fill="#e07860"/>
<rect x="0" y="70" width="33" height="33" fill="#e06a52"/><rect x="35" y="70" width="33" height="33" fill="#c9403c"/><rect x="70" y="70" width="33" height="33" fill="#e07a5e"/><rect x="105" y="70" width="33" height="33" fill="#93c5e1" class="h"/>
</g>
<g transform="translate(1641,554)">
<rect x="0" y="0" width="33" height="33" fill="#eef2f6" class="h"/><rect x="35" y="0" width="33" height="33" fill="#a01526"/><rect x="70" y="0" width="33" height="33" fill="#f7c4a8"/><rect x="105" y="0" width="33" height="33" fill="#eef2f6" class="h"/>
<rect x="0" y="35" width="33" height="33" fill="#f9cbb1"/><rect x="35" y="35" width="33" height="33" fill="#c9403c"/><rect x="70" y="35" width="33" height="33" fill="#a8d0e6" class="h"/><rect x="105" y="35" width="33" height="33" fill="#e07860"/>
<rect x="0" y="70" width="33" height="33" fill="#c9403c"/><rect x="35" y="70" width="33" height="33" fill="#e07060"/><rect x="70" y="70" width="33" height="33" fill="#a8122a"/><rect x="105" y="70" width="33" height="33" fill="#e98a6a" class="h"/>
</g>
<g transform="translate(1255,677)">
<rect x="0" y="0" width="33" height="33" fill="#fbd9c6" class="h"/><rect x="35" y="0" width="33" height="33" fill="#f2f4f6"/><rect x="70" y="0" width="33" height="33" fill="#f09a76"/><rect x="105" y="0" width="33" height="33" fill="#e7eff3"/>
<rect x="0" y="35" width="33" height="33" fill="#f2f4f6"/><rect x="35" y="35" width="33" height="33" fill="#dceaf3"/><rect x="70" y="35" width="33" height="33" fill="#0e3066"/><rect x="105" y="35" width="33" height="33" fill="#f9c4a8"/>
<rect x="0" y="70" width="33" height="33" fill="#fbe1d3" class="h"/><rect x="35" y="70" width="33" height="33" fill="#9ccbe3"/><rect x="70" y="70" width="33" height="33" fill="#c3dcea"/><rect x="105" y="70" width="33" height="33" fill="#e27a60"/>
</g>
<g transform="translate(1641,677)">
<rect x="0" y="0" width="33" height="33" fill="#f2f4f6" class="h"/><rect x="35" y="0" width="33" height="33" fill="#acd4e7"/><rect x="70" y="0" width="33" height="33" fill="#f4a57e"/><rect x="105" y="0" width="33" height="33" fill="#deeaf3"/>
<rect x="0" y="35" width="33" height="33" fill="#f9c4a8"/><rect x="35" y="35" width="33" height="33" fill="#dceaf3"/><rect x="70" y="35" width="33" height="33" fill="#0e3066"/><rect x="105" y="35" width="33" height="33" fill="#fbe1d3"/>
<rect x="0" y="70" width="33" height="33" fill="#cde2ef" class="h"/><rect x="35" y="70" width="33" height="33" fill="#a9d2e6"/><rect x="70" y="70" width="33" height="33" fill="#d3e6f1"/><rect x="105" y="70" width="33" height="33" fill="#f5a882"/>
</g>
<g transform="translate(1255,804)">
<rect x="0" y="0" width="33" height="33" fill="#e07052"/><rect x="35" y="0" width="33" height="33" fill="#1c5ba3"/><rect x="70" y="0" width="33" height="33" fill="#3d8cc4"/><rect x="105" y="0" width="33" height="33" fill="#eef2f6"/>
<rect x="0" y="35" width="33" height="33" fill="#f4aa86"/><rect x="35" y="35" width="33" height="33" fill="#c9403c" class="h"/><rect x="70" y="35" width="33" height="33" fill="#deebf3"/><rect x="105" y="35" width="33" height="33" fill="#c3ddeb"/>
<rect x="0" y="70" width="33" height="33" fill="#0e3066"/><rect x="35" y="70" width="33" height="33" fill="#5aa0cf"/><rect x="70" y="70" width="33" height="33" fill="#2166ac"/><rect x="105" y="70" width="33" height="33" fill="#3d8cc4"/>
</g>
<g transform="translate(1641,804)">
<rect x="0" y="0" width="33" height="33" fill="#a01526"/><rect x="35" y="0" width="33" height="33" fill="#3d8cc4"/><rect x="70" y="0" width="33" height="33" fill="#1c5599"/><rect x="105" y="0" width="33" height="33" fill="#c9dcea"/>
<rect x="0" y="35" width="33" height="33" fill="#fbd7c3"/><rect x="35" y="35" width="33" height="33" fill="#fbd0b6" class="h"/><rect x="70" y="35" width="33" height="33" fill="#a9d2e6"/><rect x="105" y="35" width="33" height="33" fill="#deebf3"/>
<rect x="0" y="70" width="33" height="33" fill="#2b6bb0"/><rect x="35" y="70" width="33" height="33" fill="#3580bd"/><rect x="70" y="70" width="33" height="33" fill="#3d8cc4"/><rect x="105" y="70" width="33" height="33" fill="#8ab4d6"/>
</g>
<!-- (d) -->
<g transform="translate(1837,554)">
<rect x="0" y="0" width="33" height="33" fill="#f9c4a8"/><rect x="35" y="0" width="33" height="33" fill="#fbd0b6"/><rect x="70" y="0" width="33" height="33" fill="#f2f4f6" class="h"/><rect x="105" y="0" width="33" height="33" fill="#deeaf3" class="h"/>
<rect x="0" y="35" width="33" height="33" fill="#b01b2a" class="h"/><rect x="35" y="35" width="33" height="33" fill="#a01526"/><rect x="70" y="35" width="33" height="33" fill="#e07a5e"/><rect x="105" y="35" width="33" height="33" fill="#c9403c"/>
<rect x="0" y="70" width="33" height="33" fill="#c4343c" class="h"/><rect x="35" y="70" width="33" height="33" fill="#f7b396"/><rect x="70" y="70" width="33" height="33" fill="#d04a44"/><rect x="105" y="70" width="33" height="33" fill="#b01b2a"/>
</g>
<g transform="translate(2223,554)">
<rect x="0" y="0" width="33" height="33" fill="#f6efea"/><rect x="35" y="0" width="33" height="33" fill="#fbc4a8"/><rect x="70" y="0" width="33" height="33" fill="#8f1425" class="h"/><rect x="105" y="0" width="33" height="33" fill="#f09a76" class="h"/>
<rect x="0" y="35" width="33" height="33" fill="#5a9fcf" class="h"/><rect x="35" y="35" width="33" height="33" fill="#e07860"/><rect x="70" y="35" width="33" height="33" fill="#fde0d0"/><rect x="105" y="35" width="33" height="33" fill="#e06a52"/>
<rect x="0" y="70" width="33" height="33" fill="#8ab9da" class="h"/><rect x="35" y="70" width="33" height="33" fill="#fbd7c3"/><rect x="70" y="70" width="33" height="33" fill="#f9c4a8"/><rect x="105" y="70" width="33" height="33" fill="#f6b89a"/>
</g>
<g transform="translate(1837,677)">
<rect x="0" y="0" width="33" height="33" fill="#c3dcea"/><rect x="35" y="0" width="33" height="33" fill="#f2f4f6" class="h"/><rect x="70" y="0" width="33" height="33" fill="#e4eef4"/><rect x="105" y="0" width="33" height="33" fill="#f09a76"/>
<rect x="0" y="35" width="33" height="33" fill="#fbd7c3"/><rect x="35" y="35" width="33" height="33" fill="#f9c4a8"/><rect x="70" y="35" width="33" height="33" fill="#e9f0f4"/><rect x="105" y="35" width="33" height="33" fill="#6aaed4" class="h"/>
<rect x="0" y="70" width="33" height="33" fill="#24528f" class="h"/><rect x="35" y="70" width="33" height="33" fill="#f4aa86"/><rect x="70" y="70" width="33" height="33" fill="#e06a52"/><rect x="105" y="70" width="33" height="33" fill="#e9f0f4"/>
</g>
<g transform="translate(2223,677)">
<rect x="0" y="0" width="33" height="33" fill="#75b1d6"/><rect x="35" y="0" width="33" height="33" fill="#f09a76" class="h"/><rect x="70" y="0" width="33" height="33" fill="#f2f4f6"/><rect x="105" y="0" width="33" height="33" fill="#f7b396"/>
<rect x="0" y="35" width="33" height="33" fill="#fbe6da"/><rect x="35" y="35" width="33" height="33" fill="#f9c4a8"/><rect x="70" y="35" width="33" height="33" fill="#e9f0f4"/><rect x="105" y="35" width="33" height="33" fill="#f9c4a8" class="h"/>
<rect x="0" y="70" width="33" height="33" fill="#cde2ef" class="h"/><rect x="35" y="70" width="33" height="33" fill="#fbeae3"/><rect x="70" y="70" width="33" height="33" fill="#f4aa86"/><rect x="105" y="70" width="33" height="33" fill="#deeaf3"/>
</g>
<g transform="translate(1837,804)">
<rect x="0" y="0" width="33" height="33" fill="#e7eff3" class="h"/><rect x="35" y="0" width="33" height="33" fill="#1c5ba3"/><rect x="70" y="0" width="33" height="33" fill="#acd4e7"/><rect x="105" y="0" width="33" height="33" fill="#c9403c"/>
<rect x="0" y="35" width="33" height="33" fill="#5aa0cf"/><rect x="35" y="35" width="33" height="33" fill="#deebf3" class="h"/><rect x="70" y="35" width="33" height="33" fill="#fbd7c3"/><rect x="105" y="35" width="33" height="33" fill="#a9d2e6"/>
<rect x="0" y="70" width="33" height="33" fill="#e98a6a"/><rect x="35" y="70" width="33" height="33" fill="#c3dcea" class="h"/><rect x="70" y="70" width="33" height="33" fill="#fbd7c3"/><rect x="105" y="70" width="33" height="33" fill="#a9d2e6"/>
</g>
<g transform="translate(2223,804)">
<rect x="0" y="0" width="33" height="33" fill="#d6604d" class="h"/><rect x="35" y="0" width="33" height="33" fill="#bcd9ea"/><rect x="70" y="0" width="33" height="33" fill="#9cc2e4"/><rect x="105" y="0" width="33" height="33" fill="#d6604d"/>
<rect x="0" y="35" width="33" height="33" fill="#c8dcea"/><rect x="35" y="35" width="33" height="33" fill="#f4a582" class="h"/><rect x="70" y="35" width="33" height="33" fill="#67001f"/><rect x="105" y="35" width="33" height="33" fill="#deebf3"/>
<rect x="0" y="70" width="33" height="33" fill="#f4a582"/><rect x="35" y="70" width="33" height="33" fill="#fbd0b6" class="h"/><rect x="70" y="70" width="33" height="33" fill="#fde0d0"/><rect x="105" y="70" width="33" height="33" fill="#6aaed4"/>
</g>
</svg>
</body></html>
